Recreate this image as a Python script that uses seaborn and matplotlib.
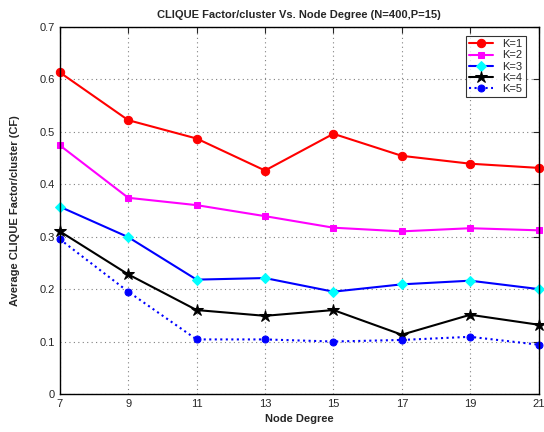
import numpy as np
import pandas as pd
import matplotlib
matplotlib.use("Agg")
import matplotlib.pyplot as plt
import seaborn as sns

# datos
node_degree = [7, 9, 11, 13, 15, 17, 19, 21]
k1 = [0.613, 0.522, 0.487, 0.426, 0.496, 0.454, 0.439, 0.431]
k2 = [0.474, 0.374, 0.360, 0.339, 0.317, 0.310, 0.316, 0.312]
k3 = [0.357, 0.299, 0.218, 0.221, 0.195, 0.209, 0.216, 0.200]
k4 = [0.310, 0.228, 0.160, 0.149, 0.160, 0.113, 0.151, 0.132]
k5 = [0.295, 0.195, 0.104, 0.104, 0.100, 0.103, 0.109, 0.094]
labels = ["K=1", "K=2", "K=3", "K=4", "K=5"]

sns.set_style("white")
plt.rcParams['font.family'] = ['Liberation Sans', 'DejaVu Sans']

fig = plt.figure(figsize=(5.44, 4.32), dpi=100)
ax = fig.add_axes([0.110, 0.088, 0.880, 0.850])

estilos = [
    dict(color='red', marker='o', linestyle='-', mfc='red', mec='red', ms=6),
    dict(color='magenta', marker='s', linestyle='-', mfc='magenta', mec='magenta', ms=5),
    dict(color='blue', marker='D', linestyle='-', mfc='cyan', mec='cyan', ms=5),
    dict(color='black', marker='*', linestyle='-', mfc='black', mec='black', ms=9),
    dict(color='blue', marker='o', linestyle=':', mfc='blue', mec='blue', ms=5),
]

for serie, lab, st in zip([k1, k2, k3, k4, k5], labels, estilos):
    df = pd.DataFrame({'x': node_degree, 'y': serie})
    sns.lineplot(data=df, x='x', y='y', ax=ax, label=lab, color=st['color'],
                 marker=st['marker'], linestyle=st['linestyle'],
                 markerfacecolor=st['mfc'], markeredgecolor=st['mec'],
                 markersize=st['ms'], linewidth=1.5, clip_on=False, zorder=3)

ax.set_xlim(7, 21)
ax.set_ylim(0, 0.7)
ax.set_xticks(node_degree)
ax.set_yticks(np.arange(0, 0.71, 0.1))
ax.set_yticklabels(['0', '0.1', '0.2', '0.3', '0.4', '0.5', '0.6', '0.7'])
ax.tick_params(direction='in', top=True, right=True, labelsize=8, length=4)
ax.grid(True, linestyle=(0, (1, 3)), color='gray', linewidth=0.8)
for s in ax.spines.values():
    s.set_color('black')
    s.set_linewidth(1.0)
    s.set_zorder(4)

ax.set_xlabel("Node Degree", fontsize=8, fontweight='bold')
ax.set_ylabel("Average CLIQUE Factor/cluster (CF)", fontsize=8, fontweight='bold', labelpad=14)
ax.set_title("CLIQUE Factor/cluster Vs. Node Degree (N=400,P=15)", fontsize=8, fontweight='bold')

leg = ax.legend(loc='upper right', fontsize=8, frameon=True, fancybox=False,
                edgecolor='black', borderpad=0.3, labelspacing=0.1, handlelength=2.2,
                bbox_to_anchor=(0.985, 0.99))
leg.get_frame().set_linewidth(0.8)
leg.set_zorder(5)

fig.savefig("out.png", dpi=100)
